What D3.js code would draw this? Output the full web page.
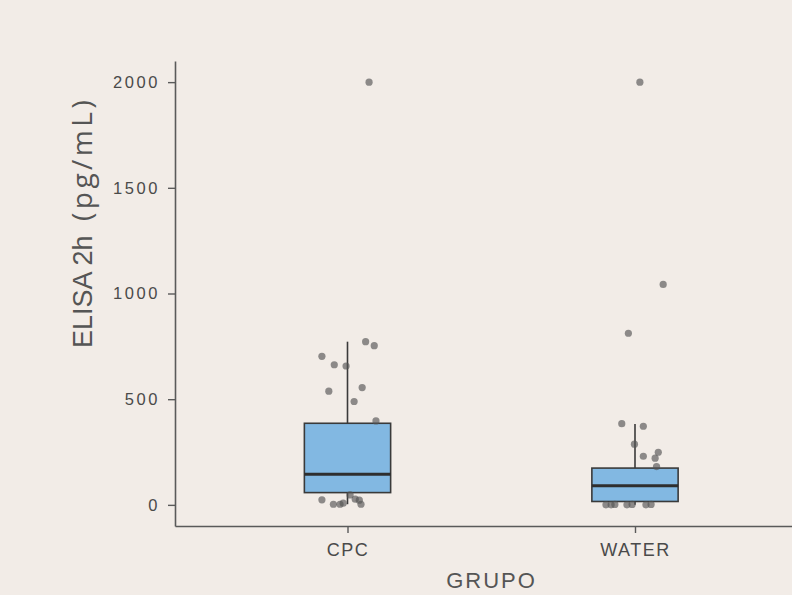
<!DOCTYPE html>
<html>
<head>
<meta charset="utf-8">
<script src="https://cdn.jsdelivr.net/npm/d3@7"></script>
<style>
  html, body { margin: 0; padding: 0; background: #f2ece7; }
  svg { display: block; }
</style>
</head>
<body>
<svg id="chart" width="792" height="595"></svg>
<script>
// Groups on the x axis
const groups = ["CPC", "WATER"];

// Box summaries per group (pg/mL)
const q1 = [58, 16];
const medians = [145, 90];
const q3 = [386, 174];
const whiskerLow = [3, 0];
const whiskerHigh = [772, 383];

// Individual observations: value and horizontal jitter (fraction of group step)
const cpcValues = [2000, 772, 753, 703, 663, 657, 538, 555, 489, 397, 24, 3, 3, 8, 27, 22, 3, 47];
const cpcJitter = [0.075, 0.063, 0.093, -0.089, -0.046, -0.005, -0.065, 0.051, 0.023, 0.099, -0.089, -0.049, -0.026, -0.015, 0.027, 0.041, 0.047, 0.009];
const waterValues = [2000, 1043, 812, 384, 372, 287, 230, 249, 221, 181, 0, 0, 2, 0, 2, 0, 2];
const waterJitter = [0.017, 0.098, -0.023, -0.046, 0.029, -0.002, 0.029, 0.081, 0.070, 0.075, -0.101, -0.083, -0.070, -0.028, -0.010, 0.038, 0.056];

// Axis ticks
const yTicks = [0, 500, 1000, 1500, 2000];

const svg = d3.select("#chart");

const x = d3.scalePoint().domain(groups).range([175, 807.5]).padding(0.6);
const y = d3.scaleLinear().domain([-100, 2100]).range([526, 61]);
const step = x.step();
const boxWidth = 0.3 * step;

const axisColor = "#5a5a5a";
const labelColor = "#4a4a4a";

// Y axis
const yAxis = svg.append("g")
  .attr("transform", "translate(175,0)")
  .call(d3.axisLeft(y).tickValues(yTicks).tickFormat(d3.format("d"))
    .tickSize(7).tickSizeOuter(0).tickPadding(8));
yAxis.select(".domain").attr("stroke", axisColor).attr("stroke-width", 1.6);
yAxis.selectAll(".tick line").attr("stroke", axisColor).attr("stroke-width", 1.4);
yAxis.selectAll(".tick text")
  .attr("fill", labelColor)
  .style("font-family", "'Liberation Sans', Arial, sans-serif")
  .style("font-size", "16.5px")
  .style("letter-spacing", "2.6px");

// X axis
const xAxis = svg.append("g")
  .attr("transform", "translate(0,526)")
  .call(d3.axisBottom(x).tickSize(7).tickSizeOuter(0).tickPadding(10));
xAxis.select(".domain").attr("stroke", axisColor).attr("stroke-width", 1.6);
xAxis.selectAll(".tick line").attr("stroke", axisColor).attr("stroke-width", 1.4);
xAxis.selectAll(".tick text")
  .attr("fill", labelColor)
  .style("font-family", "'Liberation Sans', Arial, sans-serif")
  .style("font-size", "18px")
  .style("letter-spacing", "1.5px");

// Boxplots
const boxes = groups.map((g, i) => ({
  g, q1: q1[i], med: medians[i], q3: q3[i], lo: whiskerLow[i], hi: whiskerHigh[i]
}));

const boxG = svg.append("g");
boxes.forEach(b => {
  const cx = x(b.g);
  boxG.append("line")
    .attr("x1", cx).attr("x2", cx)
    .attr("y1", y(b.q3)).attr("y2", y(b.hi))
    .attr("stroke", "#3a3a3a").attr("stroke-width", 1.6);
  boxG.append("line")
    .attr("x1", cx).attr("x2", cx)
    .attr("y1", y(b.q1)).attr("y2", y(b.lo))
    .attr("stroke", "#3a3a3a").attr("stroke-width", 1.6);
  boxG.append("rect")
    .attr("x", cx - boxWidth / 2).attr("width", boxWidth)
    .attr("y", y(b.q3)).attr("height", y(b.q1) - y(b.q3))
    .attr("fill", "#82b8e2")
    .attr("stroke", "#3a3a3a").attr("stroke-width", 1.6);
  boxG.append("line")
    .attr("x1", cx - boxWidth / 2).attr("x2", cx + boxWidth / 2)
    .attr("y1", y(b.med)).attr("y2", y(b.med))
    .attr("stroke", "#2e2e2e").attr("stroke-width", 3);
});

// Jittered observations
const points = [];
cpcValues.forEach((v, i) => points.push({ g: "CPC", v, j: cpcJitter[i] }));
waterValues.forEach((v, i) => points.push({ g: "WATER", v, j: waterJitter[i] }));

svg.append("g").selectAll("circle")
  .data(points)
  .join("circle")
  .attr("cx", d => x(d.g) + d.j * step)
  .attr("cy", d => y(d.v))
  .attr("r", 3.6)
  .attr("fill", "#555555")
  .attr("fill-opacity", 0.65);

// Axis titles
svg.append("text")
  .attr("transform", "translate(92,348) rotate(-90)")
  .attr("fill", "#555")
  .style("font-family", "'Liberation Sans', Arial, sans-serif")
  .style("font-size", "27px")
  .text("ELISA 2h");

svg.append("text")
  .attr("transform", "translate(92,221) rotate(-90)")
  .attr("fill", "#555")
  .style("font-family", "'Open Sans', sans-serif")
  .style("font-size", "28px")
  .style("letter-spacing", "3.5px")
  .text("(pg/mL)");

svg.append("text")
  .attr("x", 491.5)
  .attr("y", 588)
  .attr("text-anchor", "middle")
  .attr("fill", "#555")
  .style("font-family", "'Liberation Sans', Arial, sans-serif")
  .style("font-size", "22px")
  .style("letter-spacing", "2px")
  .text("GRUPO");
</script>
</body>
</html>
